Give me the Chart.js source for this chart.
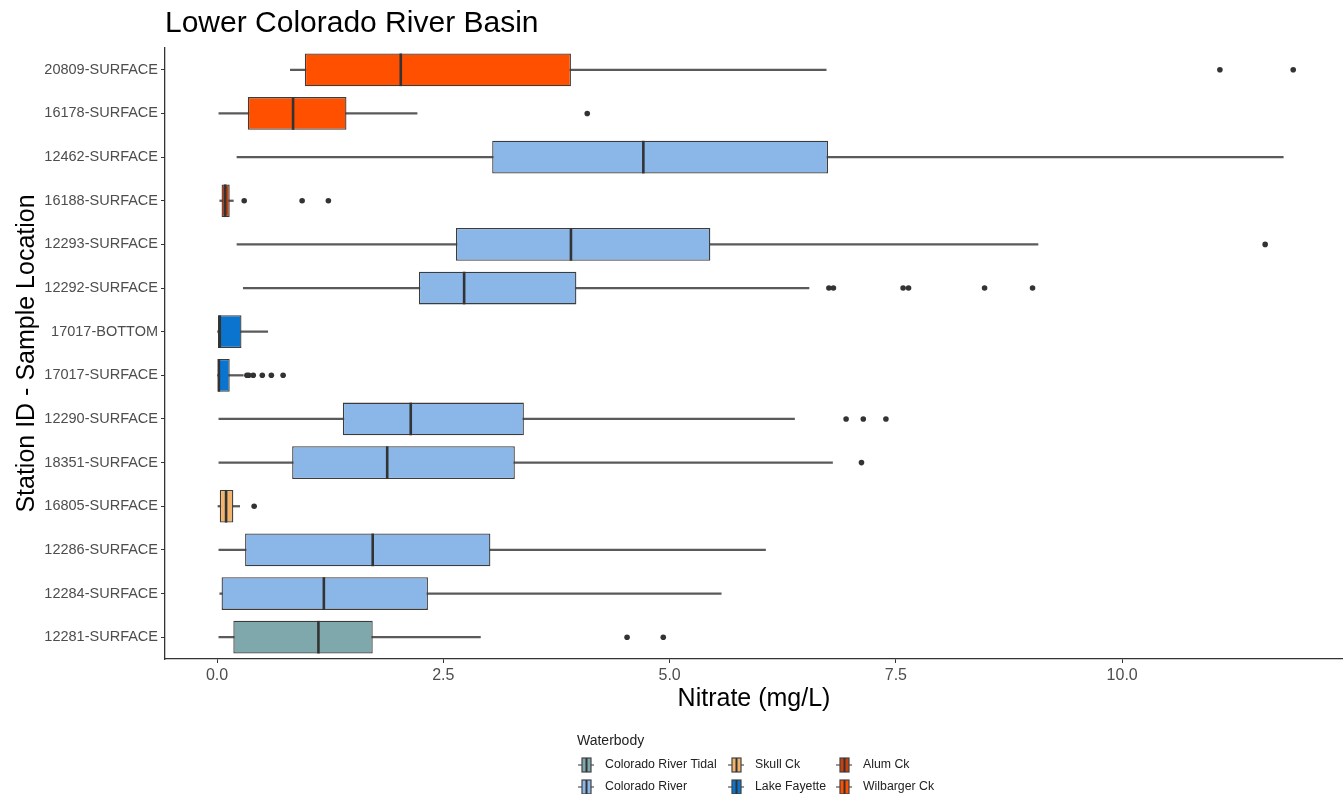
<!DOCTYPE html>
<html>
<head>
<meta charset="utf-8">
<script src="https://cdn.jsdelivr.net/npm/chart.js@4.4.1/dist/chart.umd.min.js"></script>
<style>
  html, body { margin: 0; padding: 0; background: #fff; overflow: hidden; }
  #wrap { width: 1343px; height: 794px; position: relative; }
  canvas { display: block; }
</style>
</head>
<body>
<div id="wrap"><canvas id="boxChart" width="1343" height="794"></canvas></div>
<script>
// stations, top to bottom
const stations = ['20809-SURFACE', '16178-SURFACE', '12462-SURFACE', '16188-SURFACE', '12293-SURFACE',
  '12292-SURFACE', '17017-BOTTOM', '17017-SURFACE', '12290-SURFACE', '18351-SURFACE',
  '16805-SURFACE', '12286-SURFACE', '12284-SURFACE', '12281-SURFACE'];
const stationWaterbody = ['Wilbarger Ck', 'Wilbarger Ck', 'Colorado River', 'Alum Ck', 'Colorado River',
  'Colorado River', 'Lake Fayette', 'Lake Fayette', 'Colorado River', 'Colorado River',
  'Skull Ck', 'Colorado River', 'Colorado River', 'Colorado River Tidal'];

// box stats (mg/L)
const whiskerLow  = [0.81, 0.02, 0.22, 0.03, 0.22, 0.29, 0.00, 0.00, 0.02, 0.02, 0.01, 0.02, 0.03, 0.02];
const q1          = [0.97, 0.34, 3.04, 0.05, 2.64, 2.23, 0.01, 0.01, 1.39, 0.83, 0.03, 0.31, 0.05, 0.18];
const median      = [2.03, 0.84, 4.71, 0.09, 3.91, 2.73, 0.03, 0.02, 2.14, 1.88, 0.10, 1.72, 1.18, 1.12];
const q3          = [3.91, 1.43, 6.75, 0.14, 5.45, 3.97, 0.27, 0.14, 3.39, 3.29, 0.18, 3.02, 2.33, 1.72];
const whiskerHigh = [6.73, 2.21, 11.78, 0.18, 9.07, 6.54, 0.56, 0.29, 6.38, 6.80, 0.25, 6.06, 5.57, 2.91];
const outliers = [
  [11.08, 11.89], [4.09], [], [0.30, 0.94, 1.23], [11.58],
  [6.76, 6.81, 7.58, 7.64, 8.48, 9.01], [], [0.33, 0.35, 0.40, 0.50, 0.60, 0.73],
  [6.95, 7.14, 7.39], [7.12], [0.41], [], [], [4.53, 4.93]
];

const xTickValues = [0, 2.5, 5, 7.5, 10];

// legend order (column-wise like ggplot)
const waterbodies = ['Colorado River Tidal', 'Colorado River', 'Skull Ck', 'Lake Fayette', 'Alum Ck', 'Wilbarger Ck'];
const waterbodyColors = ['#7FA8AC', '#8BB6E8', '#F2B46C', '#0A74CE', '#C9400F', '#FF5000'];

const colorOf = name => waterbodyColors[waterbodies.indexOf(name)];
const FONT = "'Liberation Sans', Arial, sans-serif";

const titlePlugin = {
  id: 'titleAndLegend',
  afterDraw(chart) {
    const ctx = chart.ctx;
    const area = chart.chartArea;
    ctx.save();
    ctx.fillStyle = '#000';
    ctx.font = '30px ' + FONT;
    ctx.textBaseline = 'alphabetic';
    ctx.textAlign = 'left';
    ctx.fillText('Lower Colorado River Basin', area.left, 32);

    // legend
    ctx.fillStyle = '#222';
    ctx.font = '14px ' + FONT;
    ctx.textBaseline = 'middle';
    ctx.fillText('Waterbody', 577, 741);
    const colX = [578, 728, 836];
    const rowY = [765, 787];
    ctx.font = '12.3px ' + FONT;
    waterbodies.forEach((name, i) => {
      const x0 = colX[Math.floor(i / 2)];
      const y0 = rowY[i % 2];
      ctx.strokeStyle = '#555';
      ctx.lineWidth = 1.2;
      ctx.beginPath();
      ctx.moveTo(x0, y0); ctx.lineTo(x0 + 16, y0);
      ctx.stroke();
      ctx.fillStyle = waterbodyColors[i];
      ctx.fillRect(x0 + 4, y0 - 7, 9, 14);
      ctx.strokeStyle = '#444';
      ctx.strokeRect(x0 + 4, y0 - 7, 9, 14);
      ctx.lineWidth = 2;
      ctx.strokeStyle = '#333';
      ctx.beginPath();
      ctx.moveTo(x0 + 8.5, y0 - 7); ctx.lineTo(x0 + 8.5, y0 + 7);
      ctx.stroke();
      ctx.fillStyle = '#222';
      ctx.fillText(name, x0 + 27, y0);
    });
    ctx.restore();
  }
};

const outlierPoints = [];
outliers.forEach((list, i) => list.forEach(v => outlierPoints.push({ x: v, y: stations[i] })));

new Chart(document.getElementById('boxChart'), {
  type: 'bar',
  data: {
    labels: stations,
    datasets: [
      {
        label: 'whisker',
        data: stations.map((s, i) => [whiskerLow[i], whiskerHigh[i]]),
        backgroundColor: '#5a5a5a',
        borderWidth: 0,
        barThickness: 1.6,
        grouped: false,
        order: 3
      },
      {
        label: 'box',
        data: stations.map((s, i) => [q1[i], q3[i]]),
        backgroundColor: stationWaterbody.map(colorOf),
        borderColor: '#3c3c3c',
        borderWidth: 1.3,
        borderSkipped: false,
        barPercentage: 0.75,
        categoryPercentage: 1,
        grouped: false,
        order: 2
      },
      {
        type: 'scatter',
        label: 'median',
        data: stations.map((s, i) => ({ x: median[i], y: s })),
        pointStyle: 'line',
        rotation: 90,
        radius: 16.3,
        borderColor: '#333',
        borderWidth: 2.6,
        order: 1
      },
      {
        type: 'scatter',
        label: 'outlier',
        data: outlierPoints,
        pointStyle: 'circle',
        radius: 2.8,
        backgroundColor: '#333',
        borderWidth: 0,
        order: 0
      }
    ]
  },
  options: {
    indexAxis: 'y',
    responsive: false,
    animation: false,
    layout: { autoPadding: false, padding: { top: 48, left: 0, right: 0, bottom: 77 } },
    plugins: { legend: { display: false }, tooltip: { enabled: false } },
    scales: {
      x: {
        type: 'linear',
        min: -0.575,
        max: 12.44,
        afterBuildTicks: scale => { scale.ticks = xTickValues.map(v => ({ value: v })); },
        afterFit: scale => { scale.height = 58; },
        ticks: {
          color: '#4D4D4D',
          font: { family: FONT, size: 16 },
          padding: 3,
          callback: v => Number(v).toFixed(1)
        },
        grid: { drawOnChartArea: false, drawTicks: true, tickLength: 4, color: '#333' },
        border: { color: '#333', width: 1.3 },
        title: {
          display: true,
          text: 'Nitrate (mg/L)',
          color: '#000',
          font: { family: FONT, size: 25 },
          padding: { top: 0, bottom: 3 }
        }
      },
      y: {
        type: 'category',
        offset: true,
        afterFit: scale => { scale.width = 165; },
        ticks: {
          color: '#4D4D4D',
          font: { family: FONT, size: 14.5 },
          padding: 3
        },
        grid: { drawOnChartArea: false, drawTicks: true, tickLength: 4, color: '#333', offset: false },
        border: { color: '#333', width: 1.3 },
        title: {
          display: true,
          text: 'Station ID - Sample Location',
          color: '#000',
          font: { family: FONT, size: 25 },
          padding: { top: 12, bottom: 0 }
        }
      }
    }
  },
  plugins: [titlePlugin]
});
</script>
</body>
</html>
